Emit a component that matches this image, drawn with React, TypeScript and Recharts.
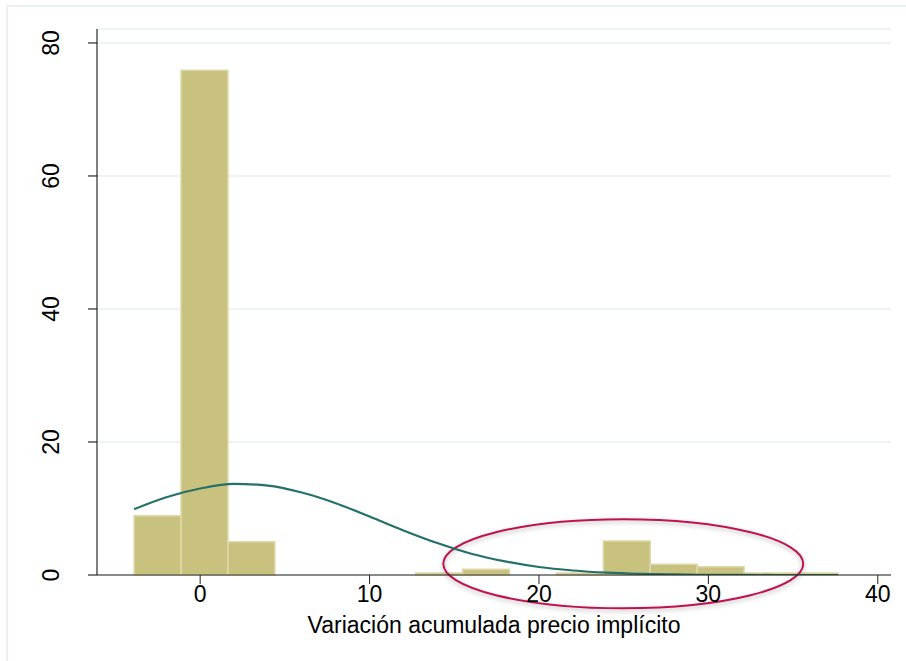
import {
  CartesianGrid,
  ComposedChart,
  Line,
  ReferenceArea,
  XAxis,
  YAxis,
} from "recharts";

// histogram bins (start, end, frequency)
const binStart = [-3.9, -1.13, 1.64, 12.72, 15.49, 21.03, 23.8, 26.57, 29.34, 32.11, 34.88];
const binEnd = [-1.13, 1.64, 4.41, 15.49, 18.26, 23.8, 26.57, 29.34, 32.11, 34.88, 37.65];
const binFreq = [8.9, 75.9, 5.0, 0.3, 0.85, 0.3, 5.1, 1.6, 1.25, 0.3, 0.3];

// normal density overlay
const curveX = [-3.9, -2, 0, 2, 4, 6, 8, 10, 12, 14, 16, 18, 20, 22, 24, 26, 28, 30, 32, 34, 36, 37.65];
const curveY = [9.9, 11.7, 13.0, 13.7, 13.45, 12.4, 10.8, 8.8, 6.7, 4.8, 3.2, 2.05, 1.2, 0.68, 0.35, 0.17, 0.08, 0.03, 0.01, 0, 0, 0];

const xTicks = [0, 10, 20, 30, 40];
const yTicks = [0, 20, 40, 60, 80];

// highlighted region (ellipse bounds)
const markX = [14.35, 35.6];
const markY = [-5, 8.4];

const curveData = curveX.map((x, i) => ({ x, y: curveY[i] }));

const FONT = "'Liberation Sans', Arial, sans-serif";
const FS = 23;

function YTick(props: any) {
  const { x, y, payload } = props;
  return (
    <text
      x={x - 35}
      y={y}
      transform={`rotate(-90, ${x - 35}, ${y})`}
      textAnchor="middle"
      dominantBaseline="central"
      fontSize={FS}
      fontFamily={FONT}
      fill="#000"
    >
      {payload.value}
    </text>
  );
}

function XTick(props: any) {
  const { x, y, payload } = props;
  return (
    <text
      x={x}
      y={y + 8}
      textAnchor="middle"
      dominantBaseline="central"
      fontSize={FS}
      fontFamily={FONT}
      fill="#000"
    >
      {payload.value}
    </text>
  );
}

function Ellipse(props: any) {
  const { x, y, width, height } = props;
  return (
    <g>
      <ellipse
        cx={x + width / 2}
        cy={y + height / 2 + 2}
        rx={width / 2}
        ry={height / 2}
        fill="none"
        stroke="#999"
        strokeOpacity={0.35}
        strokeWidth={4}
        style={{ filter: "blur(2px)" }}
      />
      <ellipse
        cx={x + width / 2}
        cy={y + height / 2}
        rx={width / 2}
        ry={height / 2}
        fill="none"
        stroke="#c0124f"
        strokeWidth={2}
      />
    </g>
  );
}

export default function App() {
  return (
    <div style={{ position: "absolute", left: 0, top: 0, width: 906, height: 661, background: "#fff" }}>
      <svg width={906} height={661} style={{ position: "absolute", left: 0, top: 0 }}>
        <rect x={7} y={6} width={920} height={700} fill="none" stroke="#eaf1f3" strokeWidth={2} />
      </svg>
      <div style={{ position: "absolute", left: 0, top: 0 }}>
        <ComposedChart
          width={906}
          height={661}
          margin={{ top: 29, right: 15, bottom: 18, left: 0 }}
        >
          <CartesianGrid
            vertical={false}
            stroke="#e8f0f2"
            strokeWidth={1.5}
          />
          <XAxis
            dataKey="x"
            type="number"
            domain={[-6.09, 40.78]}
            ticks={xTicks}
            allowDataOverflow
            height={68}
            axisLine={{ stroke: "#222" }}
            tickLine={{ stroke: "#222" }}
            tickSize={9}
            tick={<XTick />}
            label={{
              value: "Variación acumulada precio implícito",
              position: "insideBottom",
              offset: 10,
              fontSize: FS,
              fill: "#000",
              fontFamily: FONT,
            }}
          />
          <YAxis
            type="number"
            domain={[0, 82.1]}
            ticks={yTicks}
            allowDataOverflow
            width={97}
            axisLine={{ stroke: "#000" }}
            tickLine={{ stroke: "#000" }}
            tickSize={9}
            tick={<YTick />}
          />
          {binFreq.map((f, i) => (
            <ReferenceArea
              key={i}
              x1={binStart[i]}
              x2={binEnd[i]}
              y1={0}
              y2={f}
              fill="#c9c27f"
              fillOpacity={1}
              stroke="#ded9ab"
              strokeWidth={1.5}
              ifOverflow="visible"
            />
          ))}
          <Line
            data={curveData}
            dataKey="y"
            type="monotone"
            stroke="#24706a"
            strokeWidth={2.2}
            dot={false}
            isAnimationActive={false}
          />
          <ReferenceArea
            x1={markX[0]}
            x2={markX[1]}
            y1={markY[0]}
            y2={markY[1]}
            ifOverflow="visible"
            shape={<Ellipse />}
          />
        </ComposedChart>
      </div>
    </div>
  );
}
